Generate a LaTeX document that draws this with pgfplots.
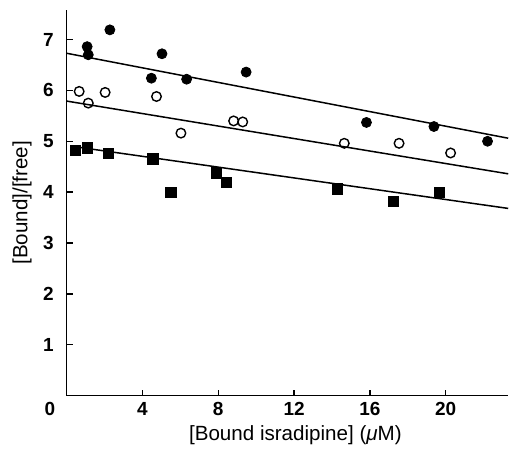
\documentclass[border=0pt]{standalone}
\usepackage{pgfplots}
\pgfplotsset{compat=1.18}
\usepackage{fontspec}
\setmainfont{Liberation Sans}

\begin{document}
\begin{tikzpicture}
  \begin{axis}[
      scale only axis,
      width=221pt, height=193pt,
      xmin=0, xmax=23.3,
      ymin=0, ymax=7.58,
      axis lines*=left,
      axis line style={line width=0.8pt},
      tick align=inside,
      major tick length=3pt,
      tick style={line width=0.7pt, black},
      xtick={0,4,8,12,16,20},
      xticklabels={\llap{0\hspace{5.7pt}},4,8,12,16,20},
      ytick={1,2,3,4,5,6,7},
      /pgf/number format/assume math mode=true,
      tick label style={font=\fontsize{9.5}{11}\selectfont\bfseries},
      yticklabel style={xshift=-3pt},
      xlabel={[Bound isradipine] (\textit{μ}M)},
      ylabel={[Bound]/[free]},
      label style={font=\fontsize{10.3}{12}\selectfont},
      xlabel style={at={(axis description cs:0.518,-0.102)}, anchor=center},
      ylabel style={at={(axis description cs:-0.101,0.5)}, anchor=center},
      clip=false,
    ]
    % fitted lines
    \addplot[black, line width=0.75pt] coordinates {(0,6.73) (23.3,5.06)};
    \addplot[black, line width=0.75pt] coordinates {(0,5.79) (23.3,4.36)};
    \addplot[black, line width=0.75pt] coordinates {(0.3,4.90) (23.3,3.68)};
    % filled circles
    \addplot[only marks, mark=*, mark size=2.5pt, black] coordinates {
      (1.08,6.86) (1.14,6.70) (2.28,7.19) (4.47,6.24) (5.03,6.72)
      (6.33,6.22) (9.47,6.36) (15.82,5.37) (19.38,5.29) (22.21,5.00)
    };
    % open circles
    \addplot[only marks, mark=o, mark size=2.4pt, black, mark options={line width=0.7pt, fill=white}] coordinates {
      (0.66,5.98) (1.14,5.75) (2.03,5.96) (4.74,5.88) (6.03,5.16)
      (8.81,5.40) (9.29,5.38) (14.65,4.96) (17.54,4.96) (20.26,4.77)
    };
    % squares
    \addplot[only marks, mark=square*, mark size=2.6pt, black] coordinates {
      (0.47,4.82) (1.10,4.87) (2.21,4.76) (4.56,4.65) (5.49,4.00)
      (7.89,4.38) (8.42,4.19) (14.29,4.06) (17.23,3.82) (19.66,4.00)
    };
    \path (rel axis cs:-0.151,-0.131) rectangle (rel axis cs:1,1.026);
  \end{axis}
\end{tikzpicture}
\end{document}
